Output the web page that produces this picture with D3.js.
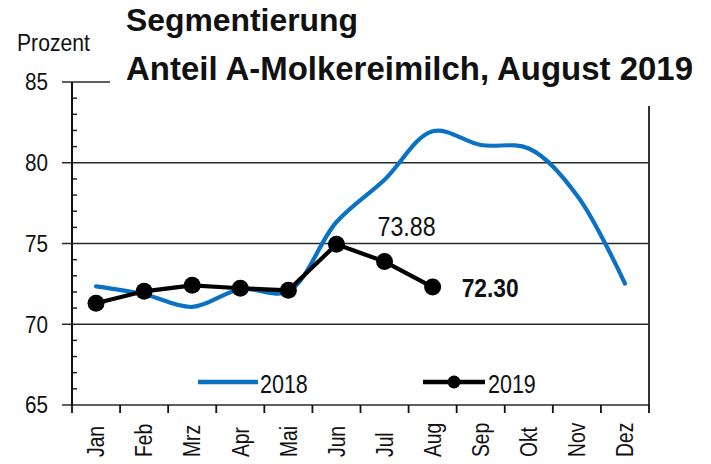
<!DOCTYPE html>
<html><head><meta charset="utf-8">
<script src="https://cdn.jsdelivr.net/npm/d3@7"></script>
<style>
body{margin:0;background:#fff}
svg{display:block}
text{font-family:"Liberation Sans",Arial,Helvetica,sans-serif;fill:#111}
</style>
</head><body>
<svg id="c" width="711" height="464"></svg>
<script>
const months = ["Jan","Feb","Mrz","Apr","Mai","Jun","Jul","Aug","Sep","Okt","Nov","Dez"];
const values2018 = [72.35,71.86,71.07,72.17,72.04,76.33,78.95,81.95,81.10,80.88,77.99,72.52];
const values2019 = [71.30,72.04,72.41,72.23,72.10,74.95,73.88,72.30];
const yTicks = [65,70,75,80,85];
const seriesNames = ["2018","2019"];
const titleLines = ["Segmentierung","Anteil A-Molkereimilch, August 2019"];
const yLabel = "Prozent";
const labelJul = "73.88";
const labelAug = "72.30";

const svg = d3.select("#c");
const L = 72, R = 649, T = 82, B = 405;
const x = d3.scaleBand().domain(months).range([L, R]).padding(0);
const y = d3.scaleLinear().domain([65, 85]).range([B, T]);
const cx = m => x(m) + x.bandwidth() / 2;
const blue = "#0b72c3";

function squeeze(sel, k) {
  sel.each(function () {
    const w = this.getComputedTextLength();
    d3.select(this).attr("textLength", w * k).attr("lengthAdjust", "spacingAndGlyphs");
  });
  return sel;
}

// gridlines (incl. major ticks to the left)
svg.append("g").selectAll("line").data(yTicks).join("line")
  .attr("x1", 62).attr("x2", R)
  .attr("y1", d => y(d)).attr("y2", d => y(d))
  .attr("stroke", "#2a2a2a").attr("stroke-width", 1.7);

// minor ticks
const minor = d3.range(66, 85).filter(v => v % 5 !== 0);
svg.append("g").selectAll("line").data(minor).join("line")
  .attr("x1", L).attr("x2", L + 5)
  .attr("y1", d => y(d)).attr("y2", d => y(d))
  .attr("stroke", "#222").attr("stroke-width", 1.5);

// left axis & right border
svg.append("line").attr("x1", L).attr("x2", L).attr("y1", T).attr("y2", B + 1)
  .attr("stroke", "#111").attr("stroke-width", 2);
svg.append("line").attr("x1", R).attr("x2", R).attr("y1", T).attr("y2", B + 1)
  .attr("stroke", "#333").attr("stroke-width", 2);

// x ticks at band boundaries
const bounds = months.map(m => x(m)).concat([R]);
svg.append("g").selectAll("line").data(bounds).join("line")
  .attr("x1", d => d).attr("x2", d => d)
  .attr("y1", B).attr("y2", B + 8)
  .attr("stroke", "#111").attr("stroke-width", 1.8);

// y tick labels
squeeze(svg.append("g").selectAll("text").data(yTicks).join("text")
  .attr("x", 48).attr("y", d => y(d)).attr("dy", "0.35em")
  .attr("text-anchor", "end").attr("font-size", 24).text(d => d), 0.86);

// month labels
squeeze(svg.append("g").selectAll("text").data(months).join("text")
  .attr("transform", d => `translate(${cx(d)},457) rotate(-90)`)
  .attr("dy", "0.35em").attr("text-anchor", "start")
  .attr("font-size", 23.5).text(d => d), 0.82);

// series 2018 (smoothed)
const line18 = d3.line().x((d, i) => cx(months[i])).y(d => y(d)).curve(d3.curveCatmullRom.alpha(0.5));
svg.append("path").datum(values2018).attr("d", line18)
  .attr("fill", "none").attr("stroke", blue).attr("stroke-width", 4.2).attr("stroke-linecap", "round");

// series 2019
const line19 = d3.line().x((d, i) => cx(months[i])).y(d => y(d));
svg.append("path").datum(values2019).attr("d", line19)
  .attr("fill", "none").attr("stroke", "#000").attr("stroke-width", 4.2).attr("stroke-linejoin", "round");
svg.append("g").selectAll("circle").data(values2019).join("circle")
  .attr("cx", (d, i) => cx(months[i])).attr("cy", d => y(d)).attr("r", 8.5).attr("fill", "#000");

// data labels
squeeze(svg.append("text").attr("x", cx("Jul") + 22).attr("y", y(values2019[6]) - 26)
  .attr("text-anchor", "middle").attr("font-size", 27).attr("fill", "#222").text(labelJul), 0.86);
squeeze(svg.append("text").attr("x", cx("Aug") + 29).attr("y", y(values2019[7]) + 10)
  .attr("text-anchor", "start").attr("font-size", 26.5).attr("font-weight", "bold").text(labelAug), 0.86);

// legend
svg.append("line").attr("x1", 198).attr("x2", 258).attr("y1", 382).attr("y2", 382)
  .attr("stroke", blue).attr("stroke-width", 4.5);
squeeze(svg.append("text").attr("x", 260).attr("y", 393).attr("font-size", 25).text(seriesNames[0]), 0.86);
svg.append("line").attr("x1", 423).attr("x2", 485).attr("y1", 382).attr("y2", 382)
  .attr("stroke", "#000").attr("stroke-width", 4.5);
svg.append("circle").attr("cx", 454).attr("cy", 382).attr("r", 6.5).attr("fill", "#000");
squeeze(svg.append("text").attr("x", 488).attr("y", 393).attr("font-size", 25).text(seriesNames[1]), 0.86);

// title area
svg.append("rect").attr("x", 110).attr("y", 0).attr("width", 601).attr("height", 106).attr("fill", "#fff");
svg.append("text").attr("x", 126).attr("y", 31).attr("font-size", 32).attr("font-weight", "bold")
  .attr("textLength", 232).attr("lengthAdjust", "spacingAndGlyphs").text(titleLines[0]);
svg.append("text").attr("x", 126).attr("y", 80).attr("font-size", 33).attr("font-weight", "bold")
  .attr("textLength", 567).attr("lengthAdjust", "spacingAndGlyphs").text(titleLines[1]);

// y-axis unit label
squeeze(svg.append("text").attr("x", 17).attr("y", 51).attr("font-size", 23).text(yLabel), 0.92);
</script>
</body></html>
